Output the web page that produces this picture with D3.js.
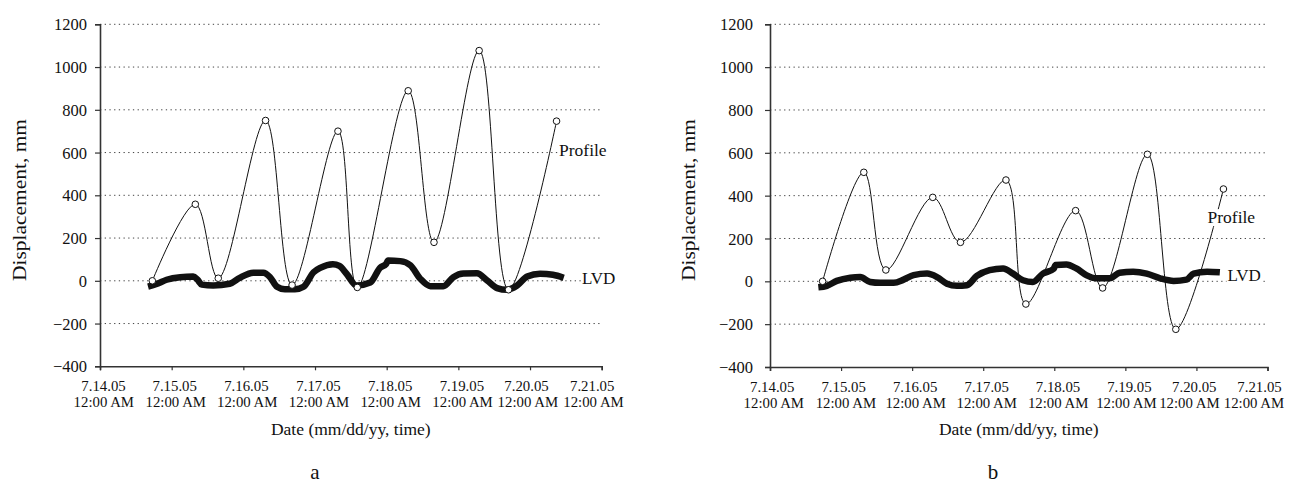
<!DOCTYPE html>
<html>
<head>
<meta charset="utf-8">
<script src="https://cdn.jsdelivr.net/npm/d3@7/dist/d3.min.js"></script>
<style>
  html, body { margin: 0; padding: 0; background: #fff; }
  svg { display: block; }
  svg text, svg tspan { font-family: "Liberation Serif", "Times New Roman", serif !important; fill: #111; }
</style>
</head>
<body>
<svg id="chart" width="1291" height="484"></svg>
<script>
// ---- Data (x = days after 7.14.05 12:00 AM, y = displacement in mm) ----
const xTickDates = ["7.14.05", "7.15.05", "7.16.05", "7.17.05", "7.18.05", "7.19.05", "7.20.05", "7.21.05"];
const xTickTimes = ["12:00 AM", "12:00 AM", "12:00 AM", "12:00 AM", "12:00 AM", "12:00 AM", "12:00 AM", "12:00 AM"];
const yTicks = [-400, -200, 0, 200, 400, 600, 800, 1000, 1200];

const profileA_days = [0.73, 1.33, 1.65, 2.31, 2.68, 3.32, 3.59, 4.30, 4.66, 5.29, 5.70, 6.37];
const profileA_mm   = [0, 358, 12, 750, -20, 700, -31, 889, 180, 1077, -42, 747];

const lvdA_days = [0.67, 0.79, 0.93, 1.12, 1.30, 1.36, 1.42, 1.58, 1.81, 1.95, 2.14, 2.28, 2.37, 2.47, 2.58, 2.72, 2.84, 2.98, 3.08, 3.25, 3.34, 3.44, 3.58, 3.77, 3.91, 3.99, 4.02, 4.19, 4.33, 4.47, 4.61, 4.79, 4.93, 5.07, 5.26, 5.40, 5.54, 5.68, 5.82, 5.96, 6.14, 6.32, 6.47];
const lvdA_mm   = [-27, -15, 5, 17, 20, 5, -18, -22, -14, 14, 38, 38, 18, -28, -40, -40, -28, 40, 62, 78, 70, 33, -22, -8, 62, 78, 95, 92, 73, 9, -25, -25, 17, 34, 35, 2, -34, -42, -22, 20, 33, 28, 14];

const profileB_days = [0.74, 1.32, 1.63, 2.29, 2.68, 3.32, 3.60, 4.30, 4.68, 5.31, 5.71, 6.38];
const profileB_mm   = [0, 509, 53, 392, 182, 473, -106, 330, -31, 593, -224, 431];

const lvdB_days = [0.68, 0.80, 0.94, 1.13, 1.27, 1.41, 1.55, 1.74, 1.88, 2.02, 2.21, 2.35, 2.49, 2.63, 2.77, 2.91, 3.09, 3.28, 3.42, 3.56, 3.70, 3.84, 3.99, 4.02, 4.17, 4.31, 4.45, 4.59, 4.78, 4.92, 5.11, 5.30, 5.49, 5.68, 5.86, 5.96, 6.15, 6.33];
const lvdB_mm   = [-28, -21, 2, 17, 20, -3, -7, -7, 8, 29, 36, 20, -11, -21, -18, 25, 52, 60, 36, 5, -3, 36, 58, 76, 79, 60, 29, 14, 14, 40, 45, 36, 14, 2, 8, 36, 45, 42];

const panelLetters = ["a", "b"];
const yTitle = "Displacement, mm";
const xTitle = "Date (mm/dd/yy, time)";
const seriesNames = ["Profile", "LVD"];

// ---- Drawing ----
const FONT = "'Liberation Serif', 'Times New Roman', serif";
const svg = d3.select("#chart").attr("font-family", FONT);

function zip(xs, ys) { return xs.map((x, i) => ({ x, y: ys[i] })); }

function drawPanel(cfg) {
  const g = svg.append("g");
  const x = d3.scaleLinear().domain([0, 7]).range([cfg.left, cfg.right]);
  const y = d3.scaleLinear().domain([-400, 1200]).range([cfg.bottom, cfg.top]);

  // dotted gridlines
  g.append("g").selectAll("line")
    .data(yTicks.filter(t => t > -400))
    .join("line")
    .attr("x1", cfg.left).attr("x2", cfg.right)
    .attr("y1", d => y(d)).attr("y2", d => y(d))
    .attr("stroke", "#444").attr("stroke-width", 1)
    .attr("stroke-dasharray", "1.3,3.4");

  // Y axis
  const yAxis = d3.axisLeft(y).tickValues(yTicks).tickSize(5).tickPadding(0)
    .tickFormat(d => d < 0 ? "\u2212" + Math.abs(d) : String(d));
  const ya = g.append("g").attr("transform", `translate(${cfg.left},0)`).call(yAxis)
    .attr("font-family", FONT).attr("font-size", 16.5);
  ya.select(".domain").attr("stroke", "#333").attr("stroke-width", 1.6);
  ya.selectAll(".tick line").attr("stroke", "#333").attr("stroke-width", 1.2);
  ya.selectAll(".tick text")
    .attr("x", -cfg.yLabelGap)
    .attr("dy", "0.34em")
    .attr("fill", "#111");

  // X axis
  const xAxis = d3.axisBottom(x).tickValues(d3.range(0, 8)).tickSize(4).tickFormat("");
  const xa = g.append("g").attr("transform", `translate(0,${cfg.bottom})`).call(xAxis)
    .attr("font-family", FONT).attr("font-size", 14.8);
  xa.select(".domain").attr("stroke", "#333").attr("stroke-width", 1.6);
  xa.selectAll(".tick line").attr("stroke", "#333").attr("stroke-width", 1.2);
  const tl = xa.selectAll(".tick text")
    .attr("fill", "#111")
    .attr("y", 0).attr("dy", null);
  tl.each(function (d) {
    const t = d3.select(this);
    t.text(null);
    t.append("tspan").attr("x", cfg.dateShift[d]).attr("y", 24.5).text(xTickDates[d]);
    t.append("tspan").attr("x", cfg.timeShift[d]).attr("y", 40.5).text(xTickTimes[d]);
  });

  // Axis titles
  g.append("text")
    .attr("transform", `translate(${cfg.yTitleX},${cfg.yTitleY}) rotate(-90)`)
    .attr("text-anchor", "middle")
    .attr("font-size", 18)
    .attr("textLength", 162).attr("lengthAdjust", "spacingAndGlyphs")
    .text(yTitle);
  g.append("text")
    .attr("x", (cfg.left + cfg.right) / 2).attr("y", 435)
    .attr("text-anchor", "middle")
    .attr("font-size", 17.5)
    .text(xTitle);

  // LVD thick line
  const lvd = zip(cfg.lvdDays, cfg.lvdMM);
  const line = d3.line().x(d => x(d.x)).y(d => y(d.y)).curve(d3.curveMonotoneX);
  g.append("path").datum(lvd)
    .attr("d", line)
    .attr("fill", "none").attr("stroke", "#111")
    .attr("stroke-width", 6.5).attr("stroke-linejoin", "round").attr("stroke-linecap", "butt");

  // Profile line
  const prof = zip(cfg.profDays, cfg.profMM);
  const pline = d3.line().x(d => x(d.x)).y(d => y(d.y)).curve(d3.curveCatmullRom.alpha(0.5));
  g.append("path").datum(prof)
    .attr("d", pline)
    .attr("fill", "none").attr("stroke", "#111").attr("stroke-width", 1);

  g.append("g").selectAll("circle").data(prof).join("circle")
    .attr("cx", d => x(d.x)).attr("cy", d => y(d.y)).attr("r", 3.3)
    .attr("fill", "#fff").attr("stroke", "#111").attr("stroke-width", 1);

  // Series labels with white backing
  function label(txt, lx, ly, size) {
    const t = g.append("text").attr("x", lx).attr("y", ly)
      .attr("dy", "0.35em").attr("font-size", size).text(txt);
    const bb = t.node().getBBox();
    g.insert("rect", function () { return t.node(); })
      .attr("x", bb.x - 1).attr("y", bb.y + 2).attr("width", bb.width + 2).attr("height", bb.height - 3)
      .attr("fill", "#fff");
  }
  label(seriesNames[0], cfg.profLabel[0], cfg.profLabel[1], 17.5);
  label(seriesNames[1], cfg.lvdLabel[0], cfg.lvdLabel[1], 17);

  // panel letter
  g.append("text").attr("x", cfg.letterX).attr("y", 479)
    .attr("text-anchor", "middle").attr("font-size", 21).text(cfg.letter);
}

drawPanel({
  left: 100, right: 601.7, top: 24.3, bottom: 366.3,
  yLabelGap: 13, yTitleX: 26, yTitleY: 200,
  dateShift: [3, 2.5, 2.5, 3, 3, 3, -4, -10],
  timeShift: [3.3, 3.6, 3.4, 3.5, 3.5, 3.7, -2.7, -8.7],
  profDays: profileA_days, profMM: profileA_mm,
  lvdDays: lvdA_days, lvdMM: lvdA_mm,
  profLabel: [559, 149.5], lvdLabel: [582, 278.5],
  letterX: 315, letter: panelLetters[0]
});

drawPanel({
  left: 770, right: 1267.5, top: 24.3, bottom: 367,
  yLabelGap: 17, yTitleX: 695, yTitleY: 200,
  dateShift: [1.7, 2, 2.5, 3, 3.2, 3.5, -2.7, -8.5],
  timeShift: [3.3, 4.3, 3, 3, 3.3, 0.5, -7.5, -14],
  profDays: profileB_days, profMM: profileB_mm,
  lvdDays: lvdB_days, lvdMM: lvdB_mm,
  profLabel: [1207.5, 217], lvdLabel: [1227.5, 275.5],
  letterX: 993, letter: panelLetters[1]
});
</script>
</body>
</html>
